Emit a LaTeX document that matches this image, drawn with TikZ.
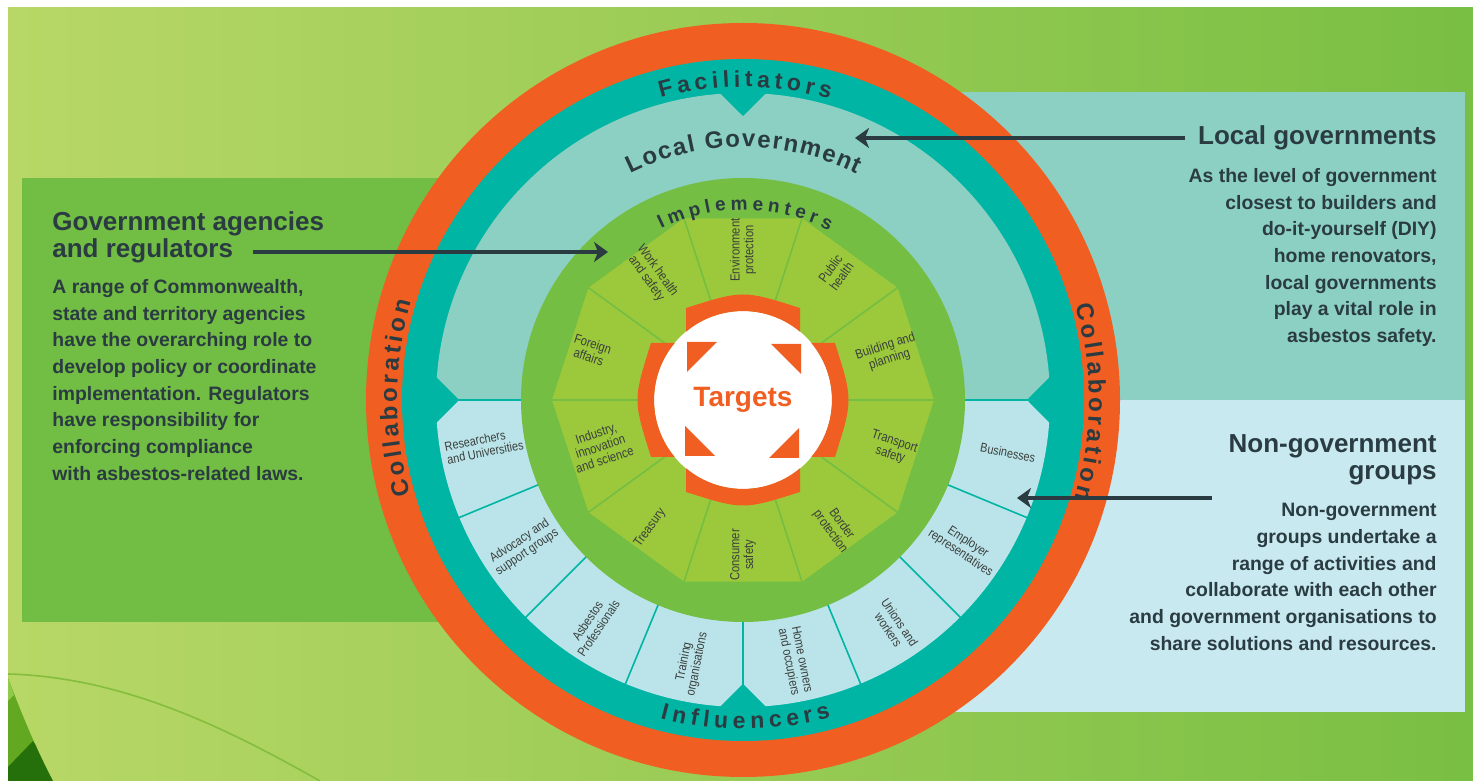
\documentclass[tikz,border=0pt]{standalone}
\usepackage{fontspec}
\setmainfont{Liberation Sans}
\newfontfamily\narrowsans{Liberation Sans}[FakeStretch=0.85]
\usetikzlibrary{arrows.meta,decorations.text}
\definecolor{paleleaf}{HTML}{B8D766}
\definecolor{deepleaf}{HTML}{79BF43}
\definecolor{leafmid}{HTML}{62A921}
\definecolor{leafdark}{HTML}{25700A}
\definecolor{leaflight}{HTML}{8FCB4B}
\definecolor{leafline}{HTML}{84BE3C}
\definecolor{govagencies}{HTML}{72BD43}
\definecolor{localgov}{HTML}{8CD0C4}
\definecolor{nongov}{HTML}{C8E9EF}
\definecolor{collaboration}{HTML}{F15E22}
\definecolor{facilitators}{HTML}{00B5A3}
\definecolor{influencers}{HTML}{BBE4EA}
\definecolor{implementers}{HTML}{74BE44}
\definecolor{sectors}{HTML}{9CC93B}
\definecolor{slate}{HTML}{2A3B42}
\definecolor{sectortext}{HTML}{3A3F3C}
\newcommand\ringlabel[2]{\fontsize{#1}{#1}\selectfont\bfseries\kern#2}

\begin{document}
\begin{tikzpicture}[x=0.5pt, y=0.5pt,
	heading/.style={font=\fontsize{13}{13.5}\selectfont\bfseries, text=slate, inner sep=0pt},
	blurb/.style={font=\fontsize{9.7}{13.35}\selectfont\bfseries, text=slate, inner sep=0pt},
	pointer/.style={slate, line width=2pt, -{Stealth[length=7pt, width=10pt, inset=2pt]}},
	inlabel/.style={font=\narrowsans\fontsize{6.6}{6.9}\selectfont, text=sectortext, align=center, inner sep=0pt},
	outlabel/.style={font=\narrowsans\fontsize{6.4}{6.7}\selectfont, text=sectortext, align=center, inner sep=0pt},
	divider/.style={facilitators, line width=0.8pt},
	spoke/.style={implementers, line width=0.8pt},
	ringtext/.style={decorate, decoration={text along path, text align=center, text color=slate, text={#1}}}]
		\useasboundingbox (0,0) rectangle (1473,781);
		\fill[white] (0,0) rectangle (1473,781);
		\shade[left color=paleleaf, right color=deepleaf] (8,0) rectangle (1473,773);
		
		\fill[leafmid] (8,103) .. controls (22,66) and (38,28) .. (53,0) -- (8,0) -- cycle;
		\fill[leaflight] (8,103) -- (14,86) -- (8,80) -- cycle;
		\begin{scope}
			\clip (8,103) .. controls (22,66) and (38,28) .. (53,0) -- (8,0) -- cycle;
			\fill[leafdark] (8,14) -- (33,40) -- (60,0) -- (8,0) -- cycle;
		\end{scope}
		\draw[leafline, line width=0.8pt] (8,107) .. controls (130,104) and (240,45) .. (320,0);
		
		\fill[govagencies] (22,159) rectangle (600,603);
		\fill[localgov] (860,381) rectangle (1465,689);
		\fill[nongov] (860,69) rectangle (1465,381);
		
		\begin{scope}[shift={(743,381)}]
			\fill[collaboration] (0,0) circle (377);
			\fill[facilitators] (0,0) circle (341);
			\fill[localgov] (0:307) arc[start angle=0, end angle=180, radius=307] -- cycle;
			\fill[influencers] (180:307) arc[start angle=180, end angle=360, radius=307] -- cycle;
			\foreach \a in {202.5,225,...,337.5}
				\draw[divider] (\a:220) -- (\a:308);
			\draw[divider, line width=0.6pt] (180:220) -- (180:308) (0:220) -- (0:308);
			\foreach \a in {0,90,180,270}
				\fill[facilitators] ({\a-4.5}:309) -- (\a:284) -- ({\a+4.5}:309) -- cycle;
			
			\fill[implementers] (0,0) circle (222);
			\fill[sectors] (0:191) \foreach \a in {36,72,...,324} {-- (\a:191)} -- cycle;
			\foreach \a in {0,36,...,324}
				\draw[spoke] (\a:95) -- (\a:191);
			
			\fill[white] (0,0) circle (89);
			\foreach \r in {0,90,180,270} {
				\fill[collaboration, rotate=\r] (57,68.3) -- (57,92) .. controls (0,110) .. (-57,92) -- (-57,68.3) arc[start angle=129.8, end angle=50.2, radius=89] -- cycle;
				\fill[collaboration, rotate=\r] (-56,58) -- (-26,58) -- (-56,28) -- cycle;
			}
			\node[font=\fontsize{14}{14}\selectfont\bfseries, text=collaboration] (targets) at (0,0) {Targets};
			
			\path[ringtext={|\ringlabel{11.5}{2.2pt}|Facilitators}] (125:313) arc[start angle=125, end angle=55, radius=313];
			\path[ringtext={|\ringlabel{11.5}{2.5pt}|Influencers}] (235:329) arc[start angle=235, end angle=305, radius=329];
			\path[ringtext={|\ringlabel{12}{1.7pt}|Collaboration}] (215:346) arc[start angle=215, end angle=145, radius=346];
			\path[ringtext={|\ringlabel{12}{1.7pt}|Collaboration}] (35:346) arc[start angle=35, end angle=-35, radius=346];
			\path[ringtext={|\ringlabel{12}{0.8pt}|Local Government}] (145:253) arc[start angle=145, end angle=35, radius=253];
			\path[ringtext={|\ringlabel{9.5}{2.3pt}|Implementers}] (140:190) arc[start angle=140, end angle=40, radius=190];
			
			\node[inlabel, rotate=-54] (workhealth) at (126:155) {Work health\\and safety};
			\node[inlabel, rotate=90] (environment) at (90:150) {Environment\\protection};
			\node[inlabel, rotate=54] (publichealth) at (54:158) {Public\\health};
			\node[inlabel, rotate=18] (building) at (18:152) {Building and\\planning};
			\node[inlabel, rotate=-18] (transport) at (-18:157) {Transport\\safety};
			\node[inlabel, rotate=-54] (border) at (-54:158) {Border\\protection};
			\node[inlabel, rotate=90] (consumer) at (-90:155) {Consumer\\safety};
			\node[inlabel, rotate=54] (treasury) at (-126:158) {Treasury};
			\node[inlabel, rotate=18] (industry) at (198:150) {Industry,\\innovation\\and science};
			\node[inlabel, rotate=-18] (foreign) at (162:160) {Foreign\\affairs};
			
			\node[outlabel, align=left, rotate=11.25] (researchers) at (190:263) {Researchers\\and Universities};
			\node[outlabel, rotate=33.75] (advocacy) at (213.75:264) {Advocacy and\\support groups};
			\node[outlabel, rotate=56.25] (professionals) at (236.25:270) {Asbestos\\Professionals};
			\node[outlabel, rotate=78.75] (training) at (258.75:268) {Training\\organisations};
			\node[outlabel, rotate=-78.75] (homeowners) at (281.25:266) {Home owners\\and occupiers};
			\node[outlabel, rotate=-56.25] (unions) at (303.75:272) {Unions and\\workers};
			\node[outlabel, rotate=-33.75] (employers) at (326.25:266) {Employer\\representatives};
			\node[outlabel, rotate=-11.25] (businesses) at (348.75:270) {Businesses};
		\end{scope}
		
		\node[heading, anchor=north west, align=left] (govhead) at (52,570) {Government agencies\\and regulators};
		\node[blurb, anchor=north west, align=left] (govtext) at (52,502) {A range of Commonwealth,\\state and territory agencies\\have the overarching role to\\develop policy or coordinate\\implementation. Regulators\\have responsibility for\\enforcing compliance\\with asbestos-related laws.};
		\node[heading, anchor=base east] (localhead) at (1437,636) {Local governments};
		\node[blurb, anchor=north east, align=right] (localtext) at (1437,613) {As the level of government\\closest to builders and\\do-it-yourself (DIY)\\home renovators,\\local governments\\play a vital role in\\asbestos safety.};
		\node[heading, anchor=north east, align=right] (ngohead) at (1437,347) {Non-government\\groups};
		\node[blurb, anchor=north east, align=right] (ngotext) at (1437,278) {Non-government\\groups undertake a\\range of activities and\\collaborate with each other\\and government organisations to\\share solutions and resources.};
		
		\coordinate (govtail) at (253,529);
		\coordinate (govtip) at (608,529);
		\coordinate (localtail) at (1185,643);
		\coordinate (localtip) at (855,643);
		\coordinate (ngotail) at (1212,283);
		\coordinate (ngotip) at (1017,283);
		\draw[pointer] (govtail) -- (govtip);
		\draw[pointer] (localtail) -- (localtip);
		\draw[pointer] (ngotail) -- (ngotip);
	\end{tikzpicture}
\end{document}
